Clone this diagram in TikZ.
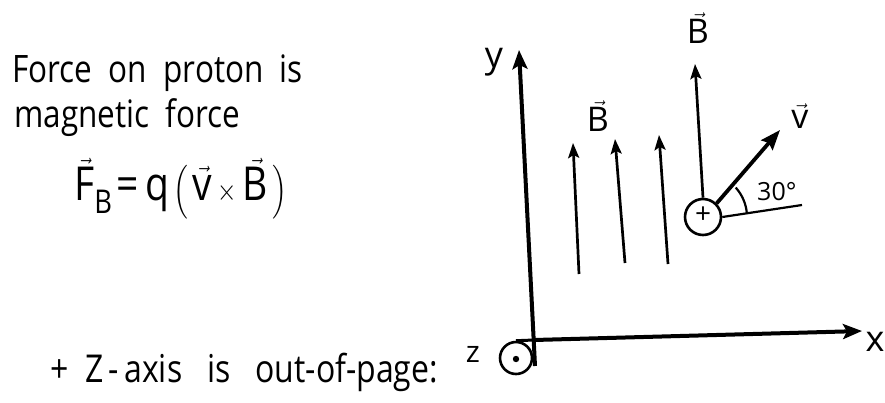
\documentclass[tikz,border=0pt]{standalone}
\usepackage{fontspec}
\usepackage{amsmath}
\setmainfont{Open Sans}
\usetikzlibrary{arrows.meta,calc}
\begin{document}
\begin{tikzpicture}[x=1pt,y=-1pt,
  axis/.style={line width=4pt,-{Stealth[length=19pt,width=15pt,inset=4pt]}},
  bfield/.style={line width=2.7pt,-{Stealth[length=15pt,width=11pt,inset=3pt]}},
  vec/.style={line width=3.8pt,-{Stealth[length=20pt,width=15pt,inset=3pt]}},
  thin/.style={line width=2.2pt},
  txt/.style={anchor=base west,inner sep=0pt,yscale=1.2},
  lbl/.style={inner sep=0pt,font=\fontsize{34}{38}\selectfont},
  circ/.style={draw,circle,line width=2.6pt,inner sep=0pt}
]
\useasboundingbox (0,0) rectangle (885,402);

% text on the left
\node[txt,font=\fontsize{31.5}{36}\selectfont] (t1) at (12,82) {Force\ \ on\ \ proton\ \ is};
\node[txt,font=\fontsize{31.5}{36}\selectfont] (t2) at (14,127) {magnetic\ \ force};
\node[txt,font=\fontsize{39}{44}\selectfont] (t3) at (74,200) {$\vec{\text{F}}_{\text{B}}\,\text{=}\;\text{q}\,\Bigl(\,\vec{\text{v}}\times\vec{\text{B}}\,\Bigr)$};
\node[txt,font=\fontsize{32}{36}\selectfont] (t4) at (50,382) {+\ \ Z\,-\,axis\ \ \ is\ \ \ out-of-page:};

% axes
\node[circ,minimum width=28pt,minimum height=32pt] (zc) at (516,358) {};
\fill (516,359) circle (3.2pt);
\node[lbl,font=\fontsize{30}{34}\selectfont] (zl) at (473,354) {z};
\coordinate (o) at (534,340);
\coordinate (ybot) at (535,366);
\coordinate (ytop) at (519,50);
\coordinate (xend) at (862,331);
\draw[axis] (ybot) -- (ytop);
\draw[line width=3pt] (zc.north) -- (o);
\draw[axis] (o) -- (xend);
\node[lbl,font=\fontsize{36}{40}\selectfont] (yl) at (494,62) {y};
\node[lbl,font=\fontsize{36}{40}\selectfont] (xl) at (875,342) {x};

% field lines
\coordinate (b1s) at (579,274);
\coordinate (b1e) at (573,143);
\coordinate (b2s) at (625,263);
\coordinate (b2e) at (615,139);
\coordinate (b3s) at (668,264);
\coordinate (b3e) at (659,135);
\draw[bfield] (b1s) -- (b1e);
\draw[bfield] (b2s) -- (b2e);
\draw[bfield] (b3s) -- (b3e);
\node[lbl] (bl1) at (598,116) {$\vec{\text{B}}$};

% proton
\node[circ,minimum width=34pt,minimum height=36pt] (p) at (703,217) {};
\node[inner sep=0pt,font=\fontsize{28}{30}\selectfont] (pp) at (703,215) {+};
\coordinate (btop) at (695,64);
\draw[bfield] (p.north) -- (btop);
\node[lbl] (bl2) at (698,28) {$\vec{\text{B}}$};

% velocity
\coordinate (vend) at (780,130);
\draw[vec] (p.north east) -- (vend);
\node[lbl] (vl) at (800,116) {$\vec{\text{v}}$};
\coordinate (href) at (802,205);
\draw[thin] (p.east) -- (href);
\draw[thin] ($(p.center)+(-5:44)$) arc[start angle=-5,end angle=-42,radius=44];
\node[anchor=base west,inner sep=0pt,font=\fontsize{25}{28}\selectfont] (ang) at (757,200) {30°};
\end{tikzpicture}
\end{document}
